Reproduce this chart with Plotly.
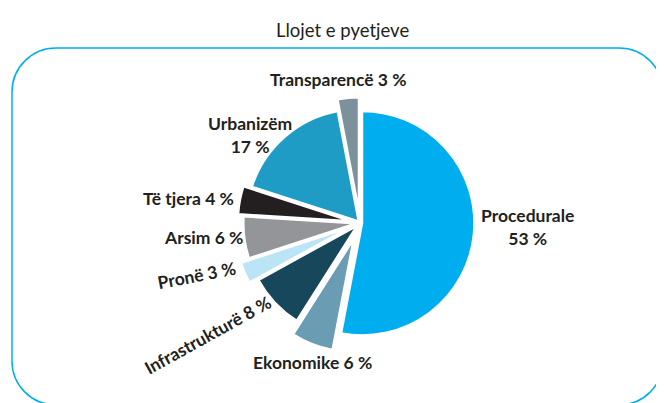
import plotly.graph_objects as go

W, H = 664, 403
OFF = 8  # page body margin around the plot div

# data
categories = ["Procedurale", "Ekonomike", "Infrastrukturë", "Pronë",
              "Arsim", "Të tjera", "Urbanizëm", "Transparencë"]
values = [53, 6, 8, 3, 6, 4, 17, 3]
pulls = [0.02, 0.16, 0.04, 0.12, 0.04, 0.09, 0.02, 0.12]
colors = ["#00AEEF", "#6A9DB3", "#17475A", "#BCE4F7",
          "#939598", "#231F20", "#1F9CC6", "#7D919C"]

# label placement in page pixels (x, y, angle), same order as categories
label_pos = [(527, 227, 0), (312, 362, 0), (207, 335, -29), (196, 275, -11),
             (203, 238, 0), (188, 198, 0), (250, 135, 0), (338, 79, 0)]
two_line = {"Procedurale", "Urbanizëm"}


def px(x, y):
    return (x - OFF) / W, 1 - (y - OFF) / H


# pie box: centre (360, 223) in page pixels, r ~ 112 after pull scaling
cx, cy, half = 360, 223, 112 * 1.16
dx0, dy1 = px(cx - half, cy - half)
dx1, dy0 = px(cx + half, cy + half)

fig = go.Figure(
    go.Pie(
        labels=categories,
        values=values,
        pull=pulls,
        sort=False,
        direction="clockwise",
        rotation=0,
        textinfo="none",
        hoverinfo="label+percent",
        marker=dict(colors=colors, line=dict(color="white", width=2)),
        domain=dict(x=[dx0, dx1], y=[dy0, dy1]),
    )
)

annotations = []
for cat, val, (lx, ly, ang) in zip(categories, values, label_pos):
    sep = "<br>" if cat in two_line else " "
    ax, ay = px(lx, ly)
    annotations.append(
        dict(
            text="<b>" + cat + sep + str(val) + " %</b>",
            x=ax, y=ay, xref="paper", yref="paper",
            xanchor="center", yanchor="middle",
            showarrow=False, textangle=ang, align="center",
            font=dict(family="Lato", size=17.5, color="#231F20"),
        )
    )

tx, ty = px(343, 30)
annotations.append(
    dict(text="Llojet e pyetjeve", x=tx, y=ty, xref="paper", yref="paper",
         xanchor="center", yanchor="middle", showarrow=False,
         font=dict(family="Lato", size=18.5, color="#231F20"))
)

# rounded frame
x0, x1, y0, y1, r = 12, 663, 48, 405, 44
k = 0.5523 * r


def p(x, y):
    a, b = px(x, y)
    return "%.5f,%.5f" % (a, b)


path = (
    "M " + p(x0 + r, y0)
    + " L " + p(x1 - r, y0)
    + " C " + p(x1 - r + k, y0) + " " + p(x1, y0 + r - k) + " " + p(x1, y0 + r)
    + " L " + p(x1, y1 - r)
    + " C " + p(x1, y1 - r + k) + " " + p(x1 - r + k, y1) + " " + p(x1 - r, y1)
    + " L " + p(x0 + r, y1)
    + " C " + p(x0 + r - k, y1) + " " + p(x0, y1 - r + k) + " " + p(x0, y1 - r)
    + " L " + p(x0, y0 + r)
    + " C " + p(x0, y0 + r - k) + " " + p(x0 + r - k, y0) + " " + p(x0 + r, y0)
    + " Z"
)

fig.update_layout(
    width=W,
    height=H,
    margin=dict(l=0, r=0, t=0, b=0),
    paper_bgcolor="white",
    showlegend=False,
    annotations=annotations,
    shapes=[dict(type="path", path=path, xref="paper", yref="paper",
                 line=dict(color="#00AEEF", width=1.5), layer="below")],
)

fig.write_html("out.html")
